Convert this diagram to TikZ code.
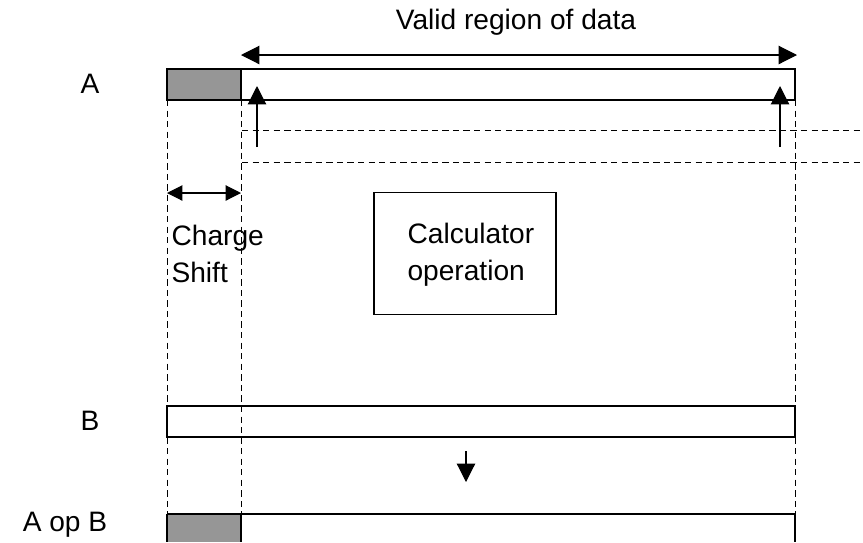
\documentclass[tikz,border=0pt]{standalone}
\usepackage{fontspec}
\setmainfont{Liberation Sans}
\usetikzlibrary{arrows.meta}
\definecolor{ink}{HTML}{000000}
\definecolor{barfill}{HTML}{969696}

\begin{document}
\begin{tikzpicture}[x=0.025cm,y=-0.025cm,font=\fontsize{20}{26}\selectfont,text=ink,
    >={Triangle[length=13pt,width=13pt]},line width=0.8pt]
  \tikzset{
    guide/.style={ink,line width=0.7pt,dash pattern=on 4.5pt off 3pt},
    lbl/.style={inner sep=0pt},
    opbox/.style={draw=ink,minimum width=4.55cm,minimum height=3.07cm}
  }
  \useasboundingbox (0,0) rectangle (863,542);

  % Register corners.
  \coordinate (A0) at (167,69);  \coordinate (A1) at (241,100); \coordinate (A2) at (795,100);
  \coordinate (B0) at (167,406); \coordinate (B2) at (795,437);
  \coordinate (R0) at (167,514); \coordinate (R1) at (241,542); \coordinate (R2) at (795,542);

  % Register A.
  \fill[barfill] (A0) rectangle (A1);
  \draw[ink] (A0) rectangle (A2);
  \draw[ink] (241,69)--(A1);
  \node[lbl] (labA) at (90,84) {A};

  % Valid region.
  \node[lbl] (valid) at (516,22) {Valid region of data};
  \coordinate (V0) at (241,55);
  \coordinate (V1) at (797,55);
  \draw[<->,ink] (V0)--(V1);

  % Guides.
  \draw[guide] (167,100)--(R0);
  \draw[guide] (A1)--(241,514);
  \draw[guide] (A2)--(795,514);
  \draw[guide] (242,130)--(863,130);
  \draw[guide] (242,162)--(863,162);

  % Read arrows.
  \coordinate (U0) at (257,147); \coordinate (U1) at (257,86);
  \coordinate (U2) at (780,147); \coordinate (U3) at (780,86);
  \draw[->,ink] (U0)--(U1);
  \draw[->,ink] (U2)--(U3);

  % Charge shift.
  \coordinate (S0) at (167,193);
  \coordinate (S1) at (241,193);
  \draw[<->,ink,>={Triangle[length=11pt,width=11pt]}] (S0)--(S1);
  \node[lbl,anchor=west,align=left] (shift) at (171,254) {Charge\\Shift};

  % Operation.
  \node[opbox] (calc) at (465,253.5) {};
  \node[lbl,anchor=west,align=left] (calctxt) at (407,255) {Calculator\\operation};

  % Register B.
  \draw[ink,fill=white] (B0) rectangle (B2);
  \draw[guide] (241,406)--(241,437);
  \node[lbl] (labB) at (90,421) {B};
  \coordinate (D0) at (466,451);
  \coordinate (D1) at (466,482);
  \draw[->,ink] (D0)--(D1);

  % Result.
  \fill[barfill] (R0) rectangle (R1);
  \draw[ink] (R0)--(795,514)--(R2) (R0)--(167,542) (241,514)--(R1);
  \node[lbl] (labR) at (65,525) {A op B};
\end{tikzpicture}
\end{document}
